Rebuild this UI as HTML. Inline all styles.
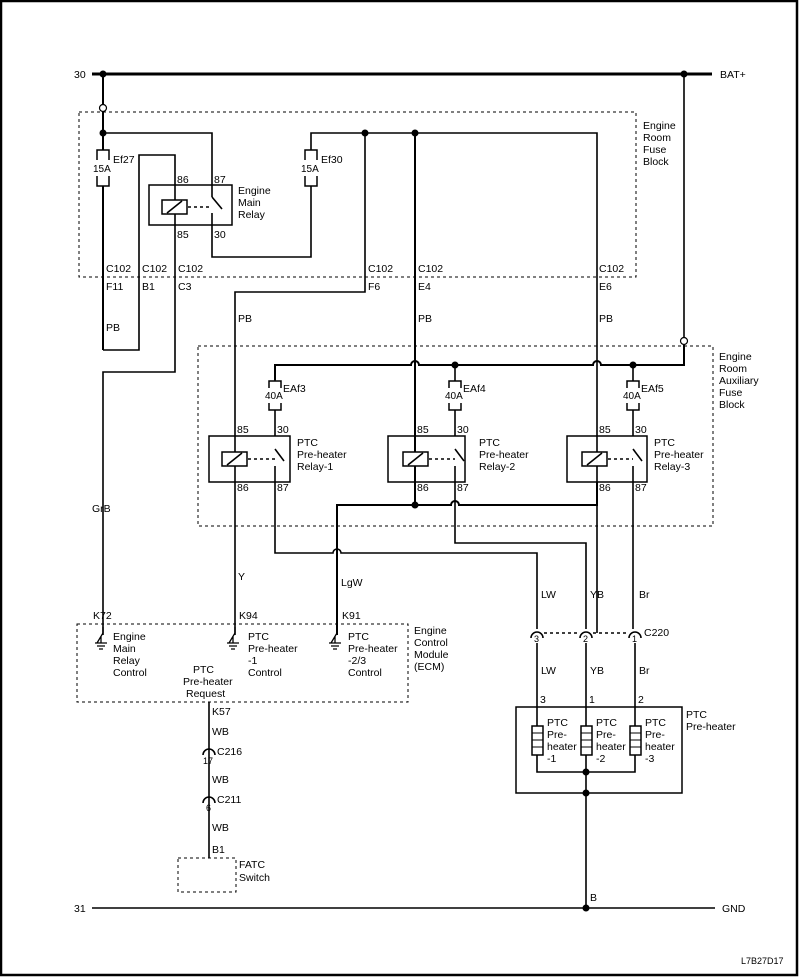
<!DOCTYPE html>
<html><head><meta charset="utf-8"><style>
html,body{margin:0;padding:0;background:#fff}
svg{display:block}
text{font-family:"Liberation Sans",sans-serif;font-size:10.5px;fill:#000}
.w{stroke:#000;stroke-width:1.6;fill:none}
.t{stroke:#000;stroke-width:3;fill:none}
.d{stroke:#000;stroke-width:1;fill:none;stroke-dasharray:3,3}
.b{stroke:#000;stroke-width:1.5;fill:#fff}
</style></head><body>
<svg width="800" height="978" viewBox="0 0 800 978" xmlns="http://www.w3.org/2000/svg">
<rect x="1" y="1" width="796" height="974" fill="none" stroke="#000" stroke-width="2.5"/>
<line x1="92" y1="74" x2="712" y2="74" class="t"/>
<text x="74" y="78">30</text><text x="720" y="78">BAT+</text>
<circle cx="103" cy="74" r="3.5"/><circle cx="684" cy="74" r="3.5"/>
<rect x="79" y="112" width="557" height="165" class="d"/>
<text x="643" y="129">Engine</text><text x="643" y="141">Room</text><text x="643" y="153">Fuse</text><text x="643" y="165">Block</text>
<line x1="103" y1="74" x2="103" y2="350" class="w" style="stroke-width:2"/>
<circle cx="103" cy="108" r="3.5" fill="#fff" stroke="#000" stroke-width="1.2"/>
<circle cx="103" cy="133" r="3.5"/>
<polyline points="103,133 212,133 212,197" class="w"/>
<path d="M97,160 V150 H109 V160 M97,176 V186 H109 V176" fill="#fff" stroke="#000" stroke-width="1.5"/>
<rect x="101" y="159" width="4" height="18" fill="#fff"/>
<text x="93" y="172" style="font-size:10px">15A</text><text x="113" y="163">Ef27</text>
<polyline points="103,350 139,350 139,155 175,155 175,372 103,372 103,635" class="w"/>
<rect x="149" y="185" width="83" height="40" fill="none" stroke="#000" stroke-width="1.5"/>
<rect x="162" y="200" width="25" height="14" class="b"/>
<line x1="167" y1="213" x2="182" y2="201" class="w"/>
<line x1="188" y1="207" x2="212" y2="207" class="d" style="stroke-width:1.5"/>
<line x1="212" y1="197" x2="222" y2="209" class="w"/>
<polyline points="212,213 212,257 311,257 311,133 365,133" class="w"/>
<polyline points="365,133 597,133 597,633" class="w"/>
<path d="M305,160 V150 H317 V160 M305,176 V186 H317 V176" fill="#fff" stroke="#000" stroke-width="1.5"/>
<rect x="309" y="159" width="4" height="18" fill="#fff"/>
<text x="301" y="172" style="font-size:10px">15A</text><text x="321" y="163">Ef30</text>
<text x="177" y="183">86</text><text x="214" y="183">87</text><text x="177" y="238">85</text><text x="214" y="238">30</text>
<text x="238" y="194">Engine</text><text x="238" y="206">Main</text><text x="238" y="218">Relay</text>
<circle cx="365" cy="133" r="3.5"/><circle cx="415" cy="133" r="3.5"/>
<polyline points="365,133 365,292 235,292 235,635" class="w"/>
<line x1="415" y1="133" x2="415" y2="505" class="w" style="stroke-width:2"/>
<text x="106" y="272">C102</text><text x="142" y="272">C102</text><text x="178" y="272">C102</text><text x="368" y="272">C102</text><text x="418" y="272">C102</text><text x="599" y="272">C102</text>
<text x="106" y="290">F11</text><text x="142" y="290">B1</text><text x="178" y="290">C3</text><text x="368" y="290">F6</text><text x="418" y="290">E4</text><text x="599" y="290">E6</text>
<text x="106" y="331">PB</text><text x="238" y="322">PB</text><text x="418" y="322">PB</text><text x="599" y="322">PB</text>
<text x="92" y="512">GrB</text>
<rect x="198" y="346" width="515" height="180" class="d"/>
<text x="719" y="360">Engine</text><text x="719" y="372">Room</text><text x="719" y="384">Auxiliary</text><text x="719" y="396">Fuse</text><text x="719" y="408">Block</text>
<polyline points="684,74 684,338" class="w"/>
<circle cx="684" cy="341" r="3.5" fill="#fff" stroke="#000" stroke-width="1.2"/>
<path d="M275,380 V365 H411 a4,4 0 0 1 8,0 H593 a4,4 0 0 1 8,0 H684 V345" class="w" style="stroke-width:2"/>
<circle cx="455" cy="365" r="3.5"/><circle cx="633" cy="365" r="3.5"/>
<line x1="455" y1="365" x2="455" y2="436" class="w"/><line x1="633" y1="365" x2="633" y2="436" class="w"/><line x1="275" y1="365" x2="275" y2="436" class="w"/>
<g fill="#fff" stroke="#000" stroke-width="1.5">
<path d="M269,388 V381 H281 V388 M269,403 V410 H281 V403"/>
<path d="M449,388 V381 H461 V388 M449,403 V410 H461 V403"/>
<path d="M627,388 V381 H639 V388 M627,403 V410 H639 V403"/>
</g>
<rect x="273" y="387" width="4" height="17" fill="#fff"/><rect x="453" y="387" width="4" height="17" fill="#fff"/><rect x="631" y="387" width="4" height="17" fill="#fff"/>
<text x="265" y="399" style="font-size:10px">40A</text><text x="283" y="392">EAf3</text>
<text x="445" y="399" style="font-size:10px">40A</text><text x="463" y="392">EAf4</text>
<text x="623" y="399" style="font-size:10px">40A</text><text x="641" y="392">EAf5</text>
<g>
<rect x="209" y="436" width="81" height="46" fill="none" stroke="#000" stroke-width="1.5"/>
<rect x="222" y="452" width="25" height="14" class="b"/><line x1="227" y1="465" x2="242" y2="453" class="w"/>
<line x1="248" y1="459" x2="275" y2="459" class="d" style="stroke-width:1.5"/>
<line x1="275" y1="449" x2="284" y2="461" class="w"/>
<text x="237" y="433">85</text><text x="277" y="433">30</text><text x="237" y="491">86</text><text x="277" y="491">87</text>
<text x="297" y="446">PTC</text><text x="297" y="458">Pre-heater</text><text x="297" y="470">Relay-1</text>
</g>
<g>
<rect x="388" y="436" width="77" height="46" fill="none" stroke="#000" stroke-width="1.5"/>
<rect x="403" y="452" width="25" height="14" class="b"/><line x1="408" y1="465" x2="423" y2="453" class="w"/>
<line x1="429" y1="459" x2="455" y2="459" class="d" style="stroke-width:1.5"/>
<line x1="455" y1="449" x2="464" y2="461" class="w"/>
<text x="417" y="433">85</text><text x="457" y="433">30</text><text x="417" y="491">86</text><text x="457" y="491">87</text>
<text x="479" y="446">PTC</text><text x="479" y="458">Pre-heater</text><text x="479" y="470">Relay-2</text>
</g>
<g>
<rect x="567" y="436" width="80" height="46" fill="none" stroke="#000" stroke-width="1.5"/>
<rect x="582" y="452" width="25" height="14" class="b"/><line x1="587" y1="465" x2="602" y2="453" class="w"/>
<line x1="608" y1="459" x2="633" y2="459" class="d" style="stroke-width:1.5"/>
<line x1="633" y1="449" x2="642" y2="461" class="w"/>
<text x="599" y="433">85</text><text x="635" y="433">30</text><text x="599" y="491">86</text><text x="635" y="491">87</text>
<text x="654" y="446">PTC</text><text x="654" y="458">Pre-heater</text><text x="654" y="470">Relay-3</text>
</g>
<line x1="275" y1="466" x2="275" y2="482" class="w"/><line x1="455" y1="466" x2="455" y2="482" class="w"/><line x1="633" y1="466" x2="633" y2="482" class="w"/>
<path d="M597,482 V505 H459 a4,4 0 0 0 -8,0 H337 V635" class="w" style="stroke-width:2"/>
<circle cx="415" cy="505" r="3.5"/>
<path d="M275,482 V553 H333 a4,4 0 0 1 8,0 H537 V629" class="w"/>
<polyline points="455,482 455,543 586,543 586,629" class="w"/>
<line x1="633" y1="482" x2="633" y2="629" class="w"/>
<text x="238" y="580">Y</text><text x="341" y="586">LgW</text>
<text x="541" y="598">LW</text><text x="590" y="598">YB</text><text x="639" y="598">Br</text>
<path d="M531,638 a6,6 0 0 1 12,0 M580,638 a6,6 0 0 1 12,0 M629,638 a6,6 0 0 1 12,0" class="w"/>
<line x1="544" y1="633" x2="579" y2="633" class="d" style="stroke-width:1.5"/><line x1="593" y1="633" x2="628" y2="633" class="d" style="stroke-width:1.5"/>
<text x="534" y="642" style="font-size:9px">3</text><text x="583" y="642" style="font-size:9px">2</text><text x="632" y="642" style="font-size:9px">1</text>
<text x="644" y="636">C220</text>
<line x1="537" y1="643" x2="537" y2="726" class="w"/><line x1="586" y1="643" x2="586" y2="726" class="w"/><line x1="635" y1="643" x2="635" y2="726" class="w"/>
<text x="541" y="674">LW</text><text x="590" y="674">YB</text><text x="639" y="674">Br</text>
<text x="540" y="703">3</text><text x="589" y="703">1</text><text x="638" y="703">2</text>
<rect x="516" y="707" width="166" height="86" fill="none" stroke="#000" stroke-width="1.5"/>
<text x="686" y="718">PTC</text><text x="686" y="730">Pre-heater</text>
<g fill="#fff" stroke="#000" stroke-width="1.5">
<rect x="532" y="726" width="11" height="29"/><rect x="581" y="726" width="11" height="29"/><rect x="630" y="726" width="11" height="29"/>
</g>
<g stroke="#000" stroke-width="1">
<line x1="532" y1="733" x2="543" y2="733"/><line x1="532" y1="740" x2="543" y2="740"/><line x1="532" y1="747" x2="543" y2="747"/>
<line x1="581" y1="733" x2="592" y2="733"/><line x1="581" y1="740" x2="592" y2="740"/><line x1="581" y1="747" x2="592" y2="747"/>
<line x1="630" y1="733" x2="641" y2="733"/><line x1="630" y1="740" x2="641" y2="740"/><line x1="630" y1="747" x2="641" y2="747"/>
</g>
<g style="font-size:10px">
<text x="547" y="726">PTC</text><text x="547" y="738">Pre-</text><text x="547" y="750">heater</text><text x="547" y="762">-1</text>
<text x="596" y="726">PTC</text><text x="596" y="738">Pre-</text><text x="596" y="750">heater</text><text x="596" y="762">-2</text>
<text x="645" y="726">PTC</text><text x="645" y="738">Pre-</text><text x="645" y="750">heater</text><text x="645" y="762">-3</text>
</g>
<polyline points="537,755 537,772 635,772 635,755" class="w"/>
<line x1="586" y1="755" x2="586" y2="908" class="w"/>
<circle cx="586" cy="772" r="3.5"/><circle cx="586" cy="793" r="3.5"/><circle cx="586" cy="908" r="3.5"/>
<text x="590" y="901">B</text>
<line x1="92" y1="908" x2="715" y2="908" class="w"/>
<text x="74" y="912">31</text><text x="722" y="912">GND</text>
<text x="741" y="964" style="font-size:9px">L7B27D17</text>
<rect x="77" y="624" width="331" height="78" class="d"/>
<text x="414" y="634">Engine</text><text x="414" y="646">Control</text><text x="414" y="658">Module</text><text x="414" y="670">(ECM)</text>
<text x="93" y="619">K72</text><text x="239" y="619">K94</text><text x="342" y="619">K91</text>
<g class="w" style="stroke-width:1.3">
<path d="M103,627 V633 L97,643 M95,643 H107 M97,646 H105 M99,649 H103 M101,643 V636"/>
<path d="M235,627 V633 L229,643 M227,643 H239 M229,646 H237 M231,649 H235 M233,643 V636"/>
<path d="M337,627 V633 L331,643 M329,643 H341 M331,646 H339 M333,649 H337 M335,643 V636"/>
</g>
<text x="113" y="640">Engine</text><text x="113" y="652">Main</text><text x="113" y="664">Relay</text><text x="113" y="676">Control</text>
<text x="248" y="640">PTC</text><text x="248" y="652">Pre-heater</text><text x="248" y="664">-1</text><text x="248" y="676">Control</text>
<text x="348" y="640">PTC</text><text x="348" y="652">Pre-heater</text><text x="348" y="664">-2/3</text><text x="348" y="676">Control</text>
<text x="193" y="673">PTC</text><text x="183" y="685">Pre-heater</text><text x="186" y="697">Request</text>
<line x1="209" y1="702" x2="209" y2="858" class="w"/>
<text x="212" y="715">K57</text><text x="212" y="735">WB</text><text x="212" y="783">WB</text><text x="212" y="831">WB</text><text x="212" y="853">B1</text>
<path d="M203,755 a6,6 0 0 1 12,0" class="w" fill="#fff"/>
<path d="M203,803 a6,6 0 0 1 12,0" class="w" fill="#fff"/>
<text x="203" y="764" style="font-size:9px">17</text><text x="206" y="811" style="font-size:9px">6</text>
<text x="217" y="755">C216</text><text x="217" y="803">C211</text>
<rect x="178" y="858" width="58" height="34" class="d"/>
<text x="239" y="868">FATC</text><text x="239" y="881">Switch</text>
</svg>
</body></html>
